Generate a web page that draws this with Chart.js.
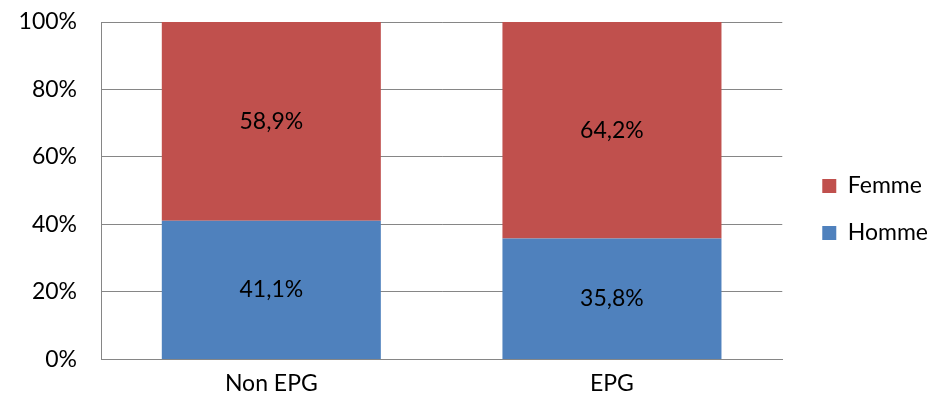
<!DOCTYPE html>
<html>
<head>
<meta charset="utf-8">
<script src="https://cdn.jsdelivr.net/npm/chart.js@4/dist/chart.umd.min.js"></script>
<style>
html,body{margin:0;padding:0;background:#fff;}
#wrap{width:935px;height:404px;position:relative;}
</style>
</head>
<body>
<div id="wrap"><canvas id="c" width="935" height="404"></canvas></div>
<script>
const categories = ["Non EPG", "EPG"];
const hommeValues = [41.1, 35.8];
const femmeValues = [58.9, 64.2];
const seriesNames = ["Homme", "Femme"];

const FONT = "Lato, 'Open Sans', sans-serif";
const FS = 23;

const dataLabels = {
  id: 'dataLabels',
  afterDatasetsDraw(chart) {
    const ctx = chart.ctx;
    ctx.save();
    ctx.font = FS + "px " + FONT;
    ctx.fillStyle = "#000";
    ctx.textAlign = "center";
    ctx.textBaseline = "middle";
    chart.data.datasets.forEach((ds, di) => {
      const meta = chart.getDatasetMeta(di);
      meta.data.forEach((bar, i) => {
        const y = (bar.y + bar.base) / 2;
        ctx.fillText(ds.data[i].toFixed(1).replace('.', ',') + '%', bar.x, y);
      });
    });
    ctx.restore();
  }
};

const legendShift = {
  id: 'legendShift',
  afterLayout(chart) {
    const lg = chart.legend;
    if (lg) { lg.left += 16; lg.right += 16; lg.top -= 5; lg.bottom -= 5; }
  }
};

new Chart(document.getElementById('c'), {
  type: 'bar',
  data: {
    labels: categories,
    datasets: [
      { label: seriesNames[0], data: hommeValues, backgroundColor: '#4F81BD', borderWidth: 0 },
      { label: seriesNames[1], data: femmeValues, backgroundColor: '#C0504D', borderWidth: 0 }
    ]
  },
  options: {
    responsive: false,
    animation: false,
    layout: { padding: { left: 0, top: 22, right: 13, bottom: -3 } },
    datasets: { bar: { categoryPercentage: 1.0, barPercentage: 0.643 } },
    scales: {
      x: {
        stacked: true,
        grid: { display: false, drawTicks: false },
        border: { display: true, color: '#868686', width: 1 },
        ticks: { font: { family: FONT, size: FS }, color: '#000', padding: 10 }
      },
      y: {
        stacked: true,
        min: 0, max: 100,
        grid: { color: '#868686', lineWidth: 1, drawTicks: false },
        border: { display: true, color: '#868686', width: 1 },
        ticks: {
          stepSize: 20,
          font: { family: FONT, size: FS }, color: '#000', padding: 24,
          callback: v => v + '%'
        },
        afterFit(scale) {
          scale.width = 101;
          scale.paddingTop = 0;
          scale.paddingBottom = 0;
        }
      }
    },
    plugins: {
      legend: {
        position: 'right',
        reverse: true,
        labels: {
          font: { family: FONT, size: 23 }, color: '#000',
          boxWidth: 14, boxHeight: 14, padding: 24
        }
      },
      tooltip: { enabled: false }
    }
  },
  plugins: [dataLabels, legendShift]
});
</script>
</body>
</html>
